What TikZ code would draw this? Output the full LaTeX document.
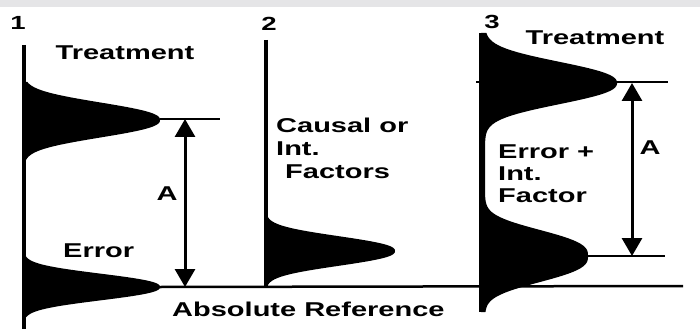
\documentclass[tikz,border=0pt]{standalone}
\usepackage{fontspec}
\setmainfont[FakeStretch=1.45]{Liberation Sans}
\usetikzlibrary{arrows.meta,positioning}
\definecolor{bandgray}{RGB}{229,229,231}
\newcommand{\bellterm}[4]{#1*exp(-min((abs((\y-#2)/#3)+0.0001)^#4/2,30))}

\begin{document}
\begin{tikzpicture}[x=1pt,y=-1pt,>={Triangle[length=18pt,width=20pt]},
  every node/.style={font=\bfseries\fontsize{20}{22}\selectfont,inner sep=0pt},
  numlabel/.style={font=\bfseries\fontsize{19}{21}\selectfont,anchor=base},
  axisline/.style={line width=3.5pt},
  peakline/.style={line width=2.5pt},
  dimarrow/.style={<->,line width=3pt}]
  \useasboundingbox (0,0) rectangle (700,331);
  \fill[bandgray] (0,0) rectangle (700,7);

  % panel 1
  \fill (24,82) -- plot[domain=82:162,samples=90,variable=\y] ({24+\bellterm{136}{120}{16.5}{2.4}},\y) -- (24,162) -- cycle;
  \fill (24,256) -- plot[domain=256:317,samples=90,variable=\y] ({24+\bellterm{136}{287}{12.6}{2.4}},\y) -- (24,317) -- cycle;
  \coordinate (ax1t) at (24,45);
  \coordinate (ax1b) at (24,329);
  \coordinate (nose1t) at (160,119);
  \coordinate (end1t) at (220,119);
  \coordinate (nose1b) at (160,287);
  \coordinate (arr1t) at (185,119);
  \coordinate (arr1b) at (185,287);
  \draw[axisline] (ax1t) -- (ax1b);
  \draw[peakline] (nose1t) -- (end1t);
  \draw[dimarrow] (arr1t) -- (arr1b);
  \node[numlabel] (n1) at (18,30) {1};
  \node[anchor=base] (treat1) at (125,60) {Treatment};
  \node[anchor=base] (a1) at (167,200) {A};
  \node[anchor=base west] (err1) at (63,257) {Error};

  % panel 2
  \fill (266,217) -- plot[domain=217:286,samples=90,variable=\y] ({266+\bellterm{129}{251}{14}{2.4}},\y) -- (266,286) -- cycle;
  \coordinate (ax2t) at (266,40);
  \coordinate (ax2b) at (266,287);
  \draw[axisline] (ax2t) -- (ax2b);
  \node[numlabel] (n2) at (269,31) {2};
  \node[anchor=base west] (cause1) at (276,133) {Causal or};
  \node[anchor=base west] (cause2) at (276,155) {Int.};
  \node[anchor=base west] (cause3) at (285,178) {Factors};

  % panel 3
  \coordinate (tick3) at (476,82);
  \coordinate (end3t) at (668,82);
  \draw[peakline] (tick3) -- (end3t);
  \fill (481,33) -- plot[domain=33:312,samples=160,variable=\y] ({485+\bellterm{132}{83}{20}{2.4}+\bellterm{103}{256}{24}{2.8}},\y) -- (481,312) -- cycle;
  \coordinate (ax3t) at (481,33);
  \coordinate (ax3b) at (481,312);
  \coordinate (nose3b) at (588,256);
  \coordinate (end3b) at (665,256);
  \coordinate (arr3t) at (632,83);
  \coordinate (arr3b) at (632,256);
  \draw[axisline] (ax3t) -- (ax3b);
  \draw[peakline] (nose3b) -- (end3b);
  \draw[dimarrow] (arr3t) -- (arr3b);
  \node[numlabel] (n3) at (492,29) {3};
  \node[anchor=base] (treat3) at (595,45) {Treatment};
  \node[anchor=base] (a3) at (650,154) {A};
  \node[anchor=base west] (mix1) at (498,158) {Error +};
  \node[anchor=base west] (mix2) at (498,180) {Int.};
  \node[anchor=base west] (mix3) at (498,202) {Factor};

  % absolute reference
  \coordinate (basee) at (683,286);
  \draw[peakline] (nose1b) -- (basee);
  \node[anchor=base west] (absref) at (172,316) {Absolute Reference};
\end{tikzpicture}
\end{document}
